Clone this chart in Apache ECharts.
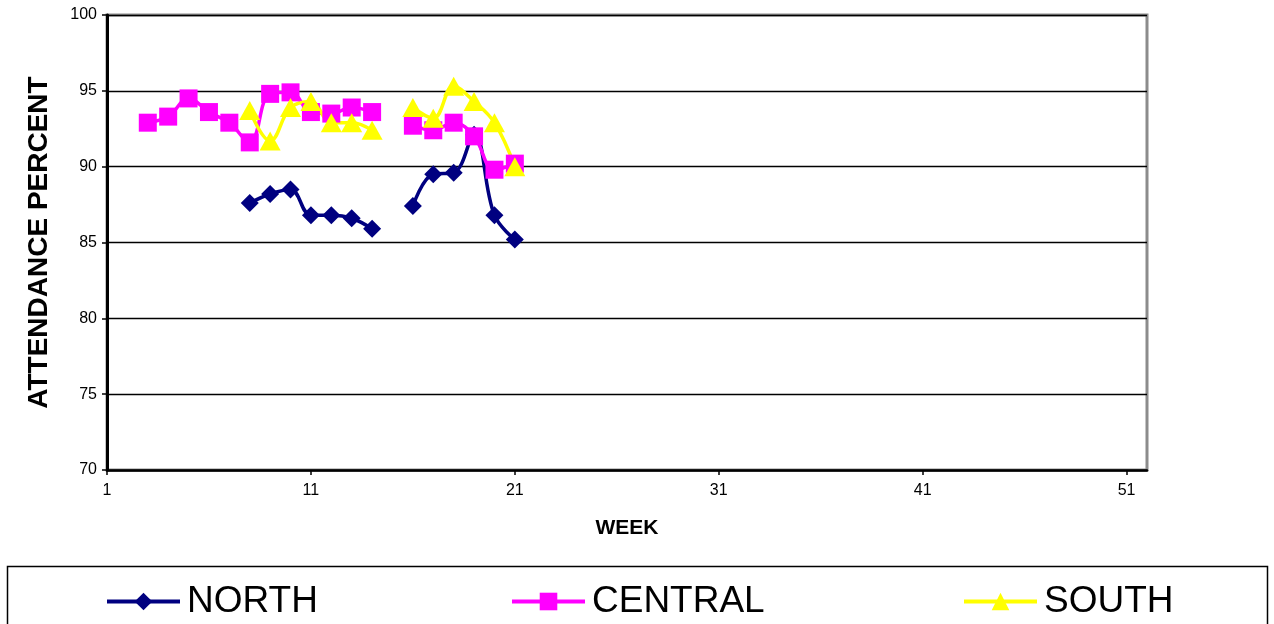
<!DOCTYPE html>
<html>
<head>
<meta charset="utf-8">
<script src="https://cdn.jsdelivr.net/npm/echarts@6/dist/echarts.min.js"></script>
<style>
html,body{margin:0;padding:0;background:#fff;}
#chart{width:1274px;height:624px;}
</style>
</head>
<body>
<div id="chart"></div>
<script>
var weeks = ['1','2','3','4','5','6','7','8','9','10','11','12','13','14','15','16','17','18','19','20','21','22','23','24','25','26','27','28','29','30','31','32','33','34','35','36','37','38','39','40','41','42','43','44','45','46','47','48','49','50','51','52'];
var yTicks = [70, 75, 80, 85, 90, 95, 100];
var north = [null,null,null,null,null,null,null,87.6,88.2,88.5,86.8,86.8,86.6,85.9,null,87.4,89.5,89.6,92.1,86.8,85.2];
var central = [null,null,92.9,93.3,94.5,93.6,92.9,91.6,94.8,94.9,93.6,93.5,93.9,93.6,null,92.7,92.4,92.9,92.0,89.8,90.2];
var south = [null,null,null,null,null,null,null,93.7,91.7,93.9,94.3,92.9,92.9,92.4,null,93.9,93.2,95.3,94.3,92.9,90.0];
var seriesNames = ['NORTH', 'CENTRAL', 'SOUTH'];

var FONT = '"Liberation Sans", Arial, sans-serif';
var chart = echarts.init(document.getElementById('chart'));
function legendAt(name, left) {
  return {
    data: [name], left: left, top: 583, orient: 'horizontal', padding: 0,
    itemWidth: 73, itemHeight: 22, selectedMode: false,
    lineStyle: {width: 4},
    textStyle: {fontFamily: FONT, fontSize: 37, color: '#000', padding: [0, 0, 0, 2]}
  };
}
chart.setOption({
  animation: false,
  backgroundColor: '#fff',
  grid: {left: 107, top: 15, right: 127, bottom: 154, show: true, borderColor: '#8c8c8c', borderWidth: 3, backgroundColor: '#fff'},
  graphic: [{
    type: 'rect', shape: {x: 7.5, y: 566.5, width: 1260, height: 80},
    style: {fill: 'none', stroke: '#000', lineWidth: 1.5}, z: 0
  }],
  legend: [legendAt('NORTH', 105), legendAt('CENTRAL', 510), legendAt('SOUTH', 962)],
  xAxis: {
    type: 'category', data: weeks, boundaryGap: false,
    name: 'WEEK', nameLocation: 'middle', nameGap: 48,
    nameTextStyle: {fontFamily: FONT, fontSize: 21, fontWeight: 'bold', color: '#000'},
    axisLine: {lineStyle: {color: '#000', width: 2.5}},
    axisTick: {interval: 9, length: 5, lineStyle: {color: '#000', width: 1.5}},
    axisLabel: {interval: 9, margin: 13, fontFamily: FONT, fontSize: 16, color: '#000'},
    splitLine: {show: false}
  },
  yAxis: {
    type: 'value', min: yTicks[0], max: yTicks[yTicks.length - 1], interval: 5,
    name: 'ATTENDANCE PERCENT', nameLocation: 'middle', nameGap: 54, nameRotate: 90,
    nameTextStyle: {fontFamily: FONT, fontSize: 28, fontWeight: 'bold', color: '#000'},
    axisLine: {show: true, lineStyle: {color: '#000', width: 3}},
    axisTick: {show: true, length: 5, lineStyle: {color: '#000', width: 1.5}},
    axisLabel: {margin: 10, fontFamily: FONT, fontSize: 16, color: '#000'},
    splitLine: {show: true, lineStyle: {color: '#000', width: 1.3}}
  },
  series: [
    {name: seriesNames[0], type: 'line', data: north, smooth: 0.4, connectNulls: false, showAllSymbol: true, showSymbol: true,
     symbol: 'diamond', symbolSize: 18, itemStyle: {color: '#000080'}, lineStyle: {color: '#000080', width: 3.5}},
    {name: seriesNames[1], type: 'line', data: central, smooth: 0.4, connectNulls: false, showAllSymbol: true, showSymbol: true,
     symbol: 'rect', symbolSize: 18, itemStyle: {color: '#ff00ff'}, lineStyle: {color: '#ff00ff', width: 3.5}},
    {name: seriesNames[2], type: 'line', data: south, smooth: 0.4, connectNulls: false, showAllSymbol: true, showSymbol: true,
     symbol: 'triangle', symbolSize: [21, 19], itemStyle: {color: '#ffff00'}, lineStyle: {color: '#ffff00', width: 3.5}}
  ]
});
</script>
</body>
</html>
